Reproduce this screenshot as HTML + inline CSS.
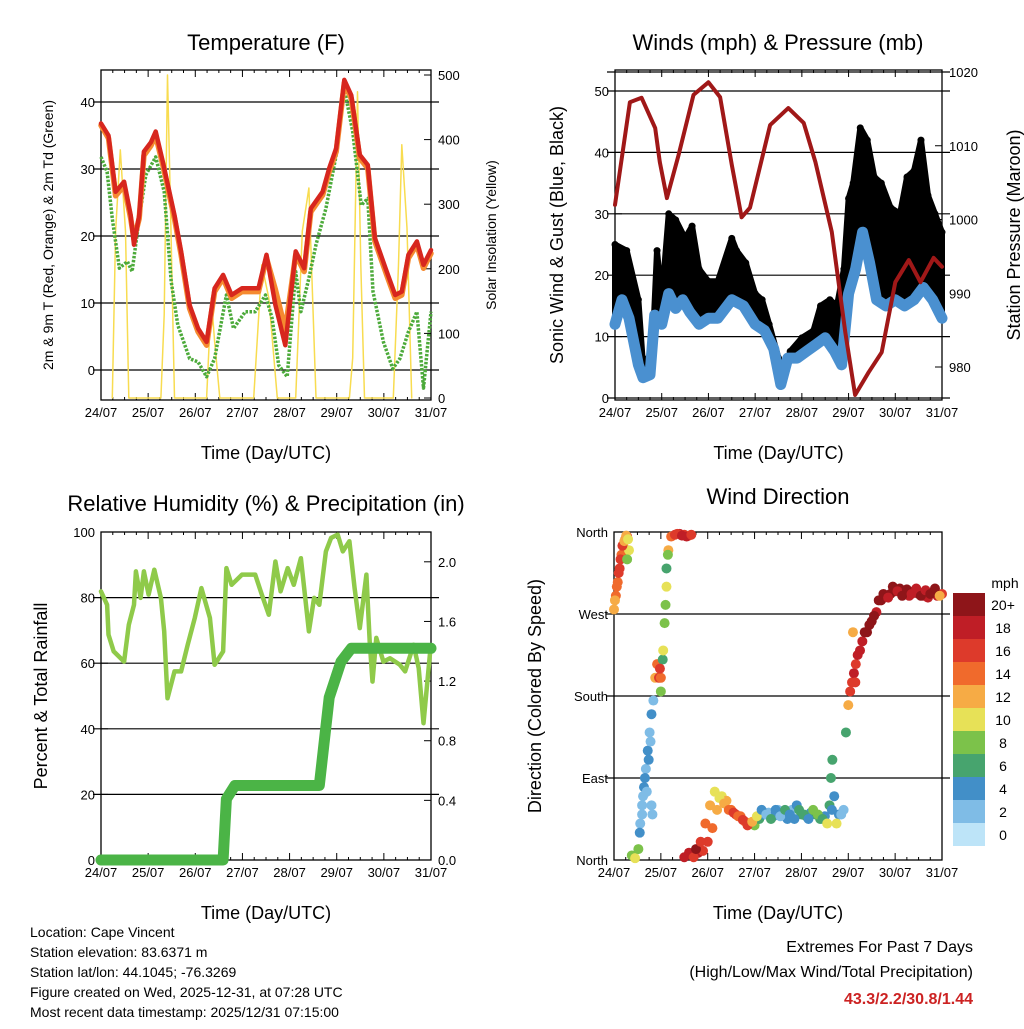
<!DOCTYPE html>
<html><head><meta charset="utf-8"><style>
body{margin:0;background:#fff;}
svg text{font-family:"Liberation Sans",sans-serif;fill:#000;}
</style></head><body>
<svg id="c" width="1024" height="1024" xmlns="http://www.w3.org/2000/svg"></svg>
<script>
// ---- data ----
const dayLabels=["24/07","25/07","26/07","27/07","28/07","29/07","30/07","31/07"];
const tempT=[0,0.16,0.31,0.49,0.63,0.7,0.81,0.91,1.06,1.16,1.31,1.56,1.7,1.88,2.06,2.24,2.41,2.59,2.77,2.99,3.34,3.51,3.7,3.91,4.13,4.31,4.45,4.7,4.84,4.99,5.16,5.31,5.49,5.66,5.81,6.06,6.24,6.38,6.52,6.7,6.84,7.0];
const tempV=[36.8,35,26.6,28.1,23.1,18.7,23.1,32.6,34,35.6,31.1,23.1,17.7,9.7,6.2,4.2,12.2,14.2,11.2,12.2,12.2,17.2,9.7,3.7,17.7,15.2,24.1,26.6,30.1,33.1,43.3,41,32.1,30.6,19.7,14.7,11.2,11.7,17.2,19.2,15.7,17.9];
const temp9V=[36.5,34.6,26,27.5,22.6,19.5,22.6,32,33.5,35,30.6,22.6,17.2,9.2,5.7,3.7,11.7,13.7,10.7,11.7,11.7,16.7,12,6,17.2,14.7,23.6,26.1,29.6,32.6,42.8,40.5,31.6,30.1,19.2,14.2,10.7,11.2,16.7,18.7,15.2,17.4];
const dewT=[0,0.13,0.24,0.39,0.56,0.66,0.81,0.95,1.16,1.34,1.49,1.63,1.88,2.06,2.24,2.41,2.66,2.81,3.06,3.27,3.49,3.63,3.77,3.95,4.13,4.24,4.41,4.56,4.77,4.99,5.16,5.34,5.52,5.66,5.77,5.99,6.19,6.34,6.52,6.7,6.84,7.0];
const dewV=[31.8,29.6,22.6,15.2,16.2,14.7,22.6,29.1,31.8,26.6,13.2,6.7,1.7,1.2,-1,1.7,11.2,6.2,8.7,8.7,11.2,7.7,0.7,-1,14.7,8.7,13.7,18.7,24.1,32.1,42,35.6,24.6,25.6,11.7,4.2,0.2,1.7,5.7,8.7,-2.7,8.7];
const solarT=[0.24,0.31,0.41,0.52,0.59,1.27,1.34,1.41,1.47,1.56,2.24,2.34,2.41,2.52,3.24,3.41,3.56,3.74,4.13,4.27,4.41,4.56,5.27,5.34,5.44,5.51,5.59,6.2,6.31,6.38,6.49,6.59];
const solarV=[0,258,384,258,0,0,129,500,309,0,0,155,88,0,0,206,155,0,0,258,325,0,0,62,474,206,0,0,206,392,263,0];
const presT=[0,0.32,0.57,0.86,0.96,1.11,1.36,1.68,2.0,2.25,2.5,2.71,2.89,3.32,3.71,4.04,4.29,4.64,4.93,5.14,5.43,5.71,6.0,6.29,6.54,6.82,7.0];
const presV=[1002,1015.9,1016.5,1012.4,1007.8,1002.9,1008.7,1016.9,1018.6,1016.6,1007.4,1000.3,1001.6,1012.8,1015.1,1013.1,1007.8,998.3,984.7,976.2,979.3,982,991.5,994.5,991.5,994.8,993.6];
const gustT=[0,0.25,0.5,0.6,0.8,0.9,1.0,1.15,1.3,1.5,1.65,1.8,2.0,2.2,2.5,2.6,2.8,3.0,3.15,3.3,3.5,3.6,3.75,4.0,4.25,4.4,4.6,4.75,4.9,5.0,5.1,5.25,5.4,5.55,5.7,5.9,6.1,6.25,6.4,6.55,6.7,6.85,7.0];
const gustV=[25,24,16,5.4,7.6,24,16,30,29,26,28,21,19,19,26,24,22,17,16,12,6.5,2.7,7.6,9.8,11,15,16,15,21,32.5,35,44,42,36,35,31,30,36,37,42,33,30,27];
const windT=[0,0.15,0.3,0.5,0.6,0.75,0.85,1.0,1.15,1.3,1.45,1.6,1.8,2.0,2.2,2.5,2.75,3.0,3.2,3.4,3.55,3.7,3.9,4.1,4.3,4.5,4.7,4.85,5.0,5.15,5.3,5.45,5.6,5.8,6.0,6.2,6.4,6.6,6.8,7.0];
const windV=[12,16,13,5.4,3.3,3.8,13.5,12,17,14.6,16,14,12,13,13,16,15,12,11,8,2.2,6.5,6.5,7.6,8.7,9.8,7.6,5.4,17,21,27,22,16,15,16,15,16,18,16,13];
const rhT=[0,0.13,0.16,0.27,0.49,0.59,0.7,0.74,0.84,0.91,1.01,1.13,1.27,1.34,1.41,1.56,1.7,1.84,1.99,2.13,2.31,2.41,2.59,2.66,2.77,2.99,3.27,3.41,3.56,3.7,3.81,3.96,4.09,4.24,4.41,4.52,4.63,4.77,4.88,5.02,5.13,5.27,5.38,5.49,5.63,5.7,5.76,5.84,5.99,6.13,6.34,6.45,6.63,6.74,6.84,6.99];
const rhV=[81.9,77.8,68.7,63.6,60.5,71.7,77.8,88,79.9,88,80.9,88.5,79.9,69.7,49.3,57.5,57.5,65.6,73.8,82.9,73.8,59.5,63.6,89,83.9,87,87,80.9,74.8,91,81.9,89,83.9,92,69.7,79.9,77.8,94.1,98.2,99.2,94.1,97.2,82.9,70.7,87,66.6,54.4,67.7,60.5,61.5,59.5,57.5,65.6,58.5,41.7,64.6];
const rainT=[0,2.59,2.66,2.84,4.63,4.84,5.09,5.31,7.0];
const rainV=[0,0,0.41,0.5,0.5,1.09,1.33,1.42,1.42];
const dirT=[0,0.04,0.08,0.12,0.16,0.2,0.24,0.28,0.32,0.38,0.45,0.52,0.56,0.6,0.64,0.68,0.72,0.76,0.8,0.84,0.88,0.92,0.96,1.0,1.04,1.08,1.12,1.16,1.22,1.3,1.4,1.5,1.6,1.7,1.8,1.9,2.0,2.1,2.2,2.3,2.4,2.5,2.6,2.7,2.8,2.9,3.0,3.1,3.2,3.3,3.4,3.5,3.6,3.7,3.8,3.9,4.0,4.1,4.2,4.3,4.4,4.5,4.6,4.63,4.66,4.7,4.8,4.9,4.95,5.0,5.04,5.08,5.12,5.16,5.2,5.3,5.4,5.5,5.6,5.7,5.8,5.9,6.0,6.1,6.2,6.3,6.4,6.5,6.6,6.7,6.8,6.9,7.0,
0.02,0.06,0.1,0.14,0.18,0.22,0.26,0.3,0.28,0.55,0.6,0.62,0.66,0.7,0.74,0.78,0.8,0.82,1.0,0.98,1.05,1.1,1.12,1.15,1.35,1.45,1.55,1.65,1.5,1.6,1.7,1.75,1.85,1.95,2.05,2.15,2.25,2.35,2.45,2.55,2.65,2.75,2.85,2.95,3.05,3.15,3.25,3.35,3.45,3.55,3.65,3.75,3.85,3.95,4.05,4.15,4.25,4.35,4.45,4.55,4.65,4.75,4.85,5.1,5.15,5.25,5.35,5.45,5.55,5.65,5.75,5.85,5.95,6.05,6.15,6.25,6.35,6.45,6.55,6.65,6.75,6.85,6.95];
const dirV=[275,290,305,320,335,345,352,355,340,5,2,12,40,60,80,100,120,140,160,175,200,215,200,185,220,260,300,340,355,357,358,357,356,5,8,10,20,35,55,70,65,55,50,48,42,40,38,45,50,52,48,55,50,45,55,60,50,48,52,50,45,48,60,90,110,70,50,55,140,170,185,195,205,215,225,240,250,262,272,285,290,292,295,298,292,290,295,292,290,288,294,290,292,
285,300,315,330,345,350,356,352,330,30,50,70,90,75,110,130,60,50,200,210,230,280,320,335,358,356,355,357,3,8,3,12,20,40,60,75,68,62,55,52,48,44,38,42,48,55,50,45,55,48,55,50,45,55,50,45,55,50,45,40,55,40,50,250,195,230,250,258,268,285,292,288,300,295,290,297,292,298,290,296,292,298,290];
const dirS=[12,14,15,16,14,13,15,16,10,9,10,8,3,2,4,3,5,2,4,3,12,14,16,8,7,9,10,12,14,17,18,16,15,19,18,17,16,14,12,10,13,15,16,15,14,13,9,6,4,3,5,3,6,4,3,5,7,6,5,7,6,5,6,6,7,5,4,3,7,12,16,17,18,17,18,19,20,20,18,20,19,21,20,22,19,18,20,21,19,18,20,19,17,
12,15,16,17,16,13,12,10,8,4,3,2,4,3,4,3,3,2,14,16,11,8,7,9,17,18,18,16,18,19,17,20,17,14,12,10,11,13,15,16,15,17,16,13,10,5,2,6,4,3,6,5,4,7,6,5,8,9,7,10,5,10,3,12,16,19,20,21,20,20,21,19,20,18,21,20,19,18,20,19,21,20,13];
const speedBins=["0","2","4","6","8","10","12","14","16","18","20+"];
const speedCols=["#bde4f8","#7fbce6","#428fc8","#47a46e","#7cc24a","#e7e157","#f6ab45","#f06a2c","#dd3a2b","#bf1e26","#8e1519"];

// ---- helpers ----
const svg=document.getElementById('c');const NS="http://www.w3.org/2000/svg";
function mk(tag,attrs,parent){const e=document.createElementNS(NS,tag);for(const k in attrs)e.setAttribute(k,attrs[k]);(parent||svg).appendChild(e);return e;}
function txt(s,x,y,size,anchor,parent,rot){const e=mk('text',{x:x,y:y,'font-size':size,'text-anchor':anchor||'middle'},parent);if(rot)e.setAttribute('transform','rotate(-90 '+x+' '+y+')');e.textContent=s;return e;}
function panel(name,x0,x1,y0,y1){const g=mk('g',{});
  const sx=t=>x0+(x1-x0)*t/7;return {g,sx,x0,x1,y0,y1};}
function frame(p,gridY){
  gridY.forEach(y=>{const l=mk('line',{x1:p.x0-8,x2:p.x1+8,y1:y,y2:y,stroke:'#000','stroke-width':1.2},p.g);});
  const r=mk('rect',{x:p.x0,y:p.y0,width:p.x1-p.x0,height:p.y1-p.y0,fill:'none',stroke:'#000','stroke-width':1.3},p.g);
  
  const xa=mk('g',{},p.g);
  for(let i=0;i<8;i++){const x=p.sx(i);mk('line',{x1:x,x2:x,y1:p.y1,y2:p.y1-7,stroke:'#000'},xa);mk('line',{x1:x,x2:x,y1:p.y0,y2:p.y0+7,stroke:'#000'},xa);
    if(i<7)for(let j=1;j<4;j++){const xm=p.sx(i+j/4);mk('line',{x1:xm,x2:xm,y1:p.y1,y2:p.y1-3,stroke:'#000'},xa);mk('line',{x1:xm,x2:xm,y1:p.y0,y2:p.y0+3,stroke:'#000'},xa);}
    txt(dayLabels[i],x,p.y1+17,13,'middle',xa);}
  const xt=txt('Time (Day/UTC)',(p.x0+p.x1)/2,p.y1+59,18,'middle',p.g);
}
function yTicks(p,vals,sy,side,fmt,name){const g=mk('g',{},p.g);
  vals.forEach(v=>{const y=sy(v);const x=side=='l'?p.x0:p.x1;const d=side=='l'?7:-7;mk('line',{x1:x,x2:x+d,y1:y,y2:y,stroke:'#000'},g);
    txt(fmt(v),side=='l'?x-6:x+7,y+5,13,side=='l'?'end':'start',g);});}
function poly(p,T,V,sx,sy,attrs,name){const pts=T.map((t,i)=>sx(t).toFixed(1)+','+sy(V[i]).toFixed(1)).join(' ');const e=mk('polyline',Object.assign({points:pts,fill:'none','stroke-linejoin':'round','stroke-linecap':'round'},attrs),p.g);return e;}
function title(s,x,y,name){const e=txt(s,x,y,22,'middle');}
function ylab(s,x,y,size,name){const e=txt(s,x,y,size,'middle',null,true);}

// ---- panel 1: temperature ----
{const p=panel('temperature-panel',101,431,70,400);
 const sy=v=>370-v*6.7, sr=v=>398-v*0.646;
 frame(p,[0,10,20,30,40].map(sy));
 yTicks(p,[0,10,20,30,40],sy,'l',v=>v,'left-y-axis');
 yTicks(p,[0,100,200,300,400,500],sr,'r',v=>v,'right-y-axis');
 poly(p,solarT,solarV,p.sx,sr,{stroke:'#f8dc50','stroke-width':1.5},'solar-line');
 poly(p,dewT,dewV,p.sx,sy,{stroke:'#4caa3a','stroke-width':3.5,'stroke-dasharray':'2.5 1.5','stroke-linecap':'butt'},'dewpoint-line');
 poly(p,tempT,temp9V,p.sx,sy,{stroke:'#f58a30','stroke-width':5.5},'temp-9m-line');
 poly(p,tempT,tempV,p.sx,sy,{stroke:'#d7261e','stroke-width':4.5},'temp-2m-line');
 title('Temperature (F)',266,50,'temperature-title');
 ylab('2m & 9m T (Red, Orange) & 2m Td (Green)',53,235,14,'left-y-title');
 ylab('Solar Insolation (Yellow)',496,235,14,'right-y-title');}

// ---- panel 2: winds ----
{const p=panel('winds-panel',615,942,70,400);
 const sy=v=>398-v*6.14, sr=v=>367-(v-980)*7.375;
 frame(p,[0,10,20,30,40,50].map(sy).concat([sr(1020)]));
 yTicks(p,[0,10,20,30,40,50],sy,'l',v=>v,'left-y-axis');
 yTicks(p,[980,990,1000,1010,1020],sr,'r',v=>v,'right-y-axis');
 const up=gustT.map((t,i)=>p.sx(t).toFixed(1)+','+sy(gustV[i]).toFixed(1));
 const lo=windT.slice().reverse().map((t,i)=>p.sx(t).toFixed(1)+','+sy(windV[windT.length-1-i]).toFixed(1));
 const gb=mk('polygon',{points:up.concat(lo).join(' '),fill:'#000',stroke:'#000','stroke-width':6,'stroke-linejoin':'round'},p.g);
 
 gustT.forEach((t,i)=>{const c=mk('circle',{cx:p.sx(t),cy:sy(gustV[i]),r:3.5,fill:'#000'},p.g);
   
   });
 poly(p,windT,windV,p.sx,sy,{stroke:'#4a90d0','stroke-width':11},'wind-series');
 poly(p,presT,presV,p.sx,sr,{stroke:'#a01818','stroke-width':4},'pressure-line');
 title('Winds (mph) & Pressure (mb)',778,50,'winds-title');
 ylab('Sonic Wind & Gust (Blue, Black)',563,235,18,'left-y-title');
 ylab('Station Pressure (Maroon)',1020,235,18,'right-y-title');}

// ---- panel 3: RH ----
{const p=panel('humidity-panel',101,431,532,860);
 const sy=v=>860-v*3.28, sr=v=>860-v*149.1;
 frame(p,[20,40,60,80].map(sy));
 yTicks(p,[0,20,40,60,80,100],sy,'l',v=>v,'left-y-axis');
 yTicks(p,[0,0.4,0.8,1.2,1.6,2.0],sr,'r',v=>v.toFixed(1),'right-y-axis');
 poly(p,rhT,rhV,p.sx,sy,{stroke:'#8fca4a','stroke-width':4.5},'rh-line');
 poly(p,rainT,rainV,p.sx,sr,{stroke:'#4bb446','stroke-width':11},'rain-line');
 title('Relative Humidity (%) & Precipitation (in)',266,511,'humidity-title');
 ylab('Percent & Total Rainfall',47,696,18,'left-y-title');}

// ---- panel 4: wind direction ----
{const p=panel('direction-panel',614,942,532,860);
 const sy=v=>860-v*328/360;
 frame(p,[90,180,270].map(sy));
 yTicks(p,[0,90,180,270,360],sy,'l',v=>['North','East','South','West','North'][v/90],'left-y-axis');
 const pts=mk('g',{},p.g);
 dirT.forEach((t,i)=>{const b=Math.min(10,Math.floor(dirS[i]/2));
   const c=mk('circle',{cx:p.sx(t),cy:sy(dirV[i]),r:5,fill:speedCols[b]},pts);
   
   });
 const cb=mk('g',{});
 speedBins.forEach((s,i)=>{const y=846-(i+1)*23;mk('rect',{x:953,y:y,width:32,height:23,fill:speedCols[i]},cb);txt(s,1003,y+17,14,'middle',cb);});
 txt('mph',1005,588,14,'middle',cb);
 title('Wind Direction',778,504,'direction-title');
 ylab('Direction (Colored By Speed)',541,696,18,'left-y-title');}

// ---- footer ----
{const g=mk('g',{});
 ['Location: Cape Vincent','Station elevation: 83.6371 m','Station lat/lon: 44.1045; -76.3269','Figure created on Wed, 2025-12-31, at 07:28 UTC','Most recent data timestamp: 2025/12/31 07:15:00'].forEach((s,i)=>txt(s,30,937+i*20,14,'start',g));
 const h=mk('g',{});
 txt('Extremes For Past 7 Days',973,952,16,'end',h);
 txt('(High/Low/Max Wind/Total Precipitation)',973,977,16,'end',h);
 const r=txt('43.3/2.2/30.8/1.44',973,1004,16,'end',h);r.setAttribute('style','fill:#cc2222;font-weight:bold');}
</script>
</body></html>
